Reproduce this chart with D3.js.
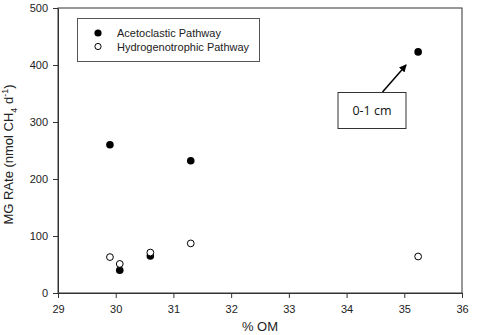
<!DOCTYPE html>
<html>
<head>
<meta charset="utf-8">
<script src="https://cdn.jsdelivr.net/npm/d3@7"></script>
<style>
  body { margin: 0; background: #fff; }
  svg { display: block; font-family: "Liberation Sans", Arial, sans-serif; }
</style>
</head>
<body>
<div id="chart"></div>
<script>
// % OM for each depth sample
var omValues = [29.9, 30.07, 30.6, 31.3, 35.24];
// MG rates (nmol CH4 d-1)
var acetoclastic = [260, 40, 65, 232, 423];
var hydrogenotrophic = [63, 51, 71, 87, 64];
var seriesNames = ["Acetoclastic Pathway", "Hydrogenotrophic Pathway"];
var xTicks = [29, 30, 31, 32, 33, 34, 35, 36];
var yTicks = [0, 100, 200, 300, 400, 500];

var margin = {top: 8, right: 25, bottom: 42, left: 58},
    width = 487 - margin.left - margin.right,
    height = 335 - margin.top - margin.bottom;

var svg = d3.select("#chart")
    .append("svg")
    .attr("width", 487)
    .attr("height", 335);

var g = svg.append("g")
    .attr("transform", "translate(" + margin.left + "," + margin.top + ")");

var x = d3.scaleLinear().domain([29, 36]).range([0, width]);
var y = d3.scaleLinear().domain([0, 500]).range([height, 0]);

// frame
g.append("rect")
    .attr("width", width)
    .attr("height", height)
    .attr("fill", "none")
    .attr("stroke", "#333")
    .attr("stroke-width", 1);

var xAxis = g.append("g")
    .attr("transform", "translate(0," + height + ")")
    .call(d3.axisBottom(x).tickValues(xTicks).tickSize(5).tickSizeOuter(0).tickFormat(d3.format("d")));

var yAxis = g.append("g")
    .call(d3.axisLeft(y).tickValues(yTicks).tickSize(5).tickSizeOuter(0).tickFormat(d3.format("d")));

[xAxis, yAxis].forEach(function(a) {
    a.attr("font-family", "Liberation Sans, Arial, sans-serif");
    a.select(".domain").attr("stroke", "#333");
    a.selectAll(".tick line").attr("stroke", "#333");
    a.selectAll(".tick text")
        .attr("fill", "#222")
        .style("font-size", "11px");
});
xAxis.selectAll(".tick text").attr("dy", "1.1em");
yAxis.selectAll(".tick text").attr("x", -10);

// axis titles
svg.append("text")
    .attr("x", margin.left + width / 2)
    .attr("y", 331)
    .attr("text-anchor", "middle")
    .style("font-size", "13px")
    .attr("fill", "#222")
    .text("% OM");

var yl = svg.append("text")
    .attr("transform", "translate(13," + (margin.top + height / 2 + 4) + ") rotate(-90)")
    .attr("text-anchor", "middle")
    .style("font-size", "13px")
    .attr("fill", "#222");
yl.append("tspan").text("MG RAte (nmol CH");
yl.append("tspan").attr("dy", 4).style("font-size", "9px").text("4");
yl.append("tspan").attr("dy", -4).text(" d");
yl.append("tspan").attr("dy", -5).style("font-size", "9px").text("-1");
yl.append("tspan").attr("dy", 5).text(")");

// points
g.selectAll(".aceto")
    .data(omValues.map(function(d, i) { return {x: d, y: acetoclastic[i]}; }))
    .enter().append("circle")
    .attr("class", "aceto")
    .attr("cx", function(d) { return x(d.x); })
    .attr("cy", function(d) { return y(d.y); })
    .attr("r", 3.8)
    .attr("fill", "#000");

g.selectAll(".hydro")
    .data(omValues.map(function(d, i) { return {x: d, y: hydrogenotrophic[i]}; }))
    .enter().append("circle")
    .attr("class", "hydro")
    .attr("cx", function(d) { return x(d.x); })
    .attr("cy", function(d) { return y(d.y); })
    .attr("r", 3.4)
    .attr("fill", "#fff")
    .attr("stroke", "#000")
    .attr("stroke-width", 1);

// legend
var legend = svg.append("g");
legend.append("rect")
    .attr("x", 77.5).attr("y", 18.5)
    .attr("width", 182).attr("height", 43)
    .attr("fill", "#fff").attr("stroke", "#555");
seriesNames.forEach(function(name, i) {
    var ly = 33 + i * 13.5;
    legend.append("circle")
        .attr("cx", 98).attr("cy", ly)
        .attr("r", i === 0 ? 3.6 : 3.1)
        .attr("fill", i === 0 ? "#000" : "#fff")
        .attr("stroke", "#000").attr("stroke-width", i === 0 ? 0 : 1);
    legend.append("text")
        .attr("x", 117).attr("y", ly + 4)
        .style("font-size", "11px")
        .attr("fill", "#222")
        .text(name);
});

// annotation for the surface sample
svg.append("defs").append("marker")
    .attr("id", "arrow")
    .attr("viewBox", "0 0 10 10")
    .attr("refX", 9).attr("refY", 5)
    .attr("markerWidth", 5).attr("markerHeight", 5)
    .attr("orient", "auto")
    .append("path").attr("d", "M0,0 L10,5 L0,10 z").attr("fill", "#000");

var top0 = {x: margin.left + x(35.24), y: margin.top + y(423)};
svg.append("line")
    .attr("x1", 382.5).attr("y1", 92)
    .attr("x2", top0.x - 12).attr("y2", top0.y + 13)
    .attr("stroke", "#000").attr("stroke-width", 1.5)
    .attr("marker-end", "url(#arrow)");

svg.append("rect")
    .attr("x", 338).attr("y", 92.5)
    .attr("width", 68).attr("height", 36)
    .attr("fill", "#fff").attr("stroke", "#333");
svg.append("text")
    .attr("x", 372).attr("y", 115)
    .attr("text-anchor", "middle")
    .style("font-size", "12.5px")
    .style("font-family", "Open Sans, Carlito, sans-serif")
    .attr("fill", "#111")
    .text("0-1 cm");
</script>
</body>
</html>
